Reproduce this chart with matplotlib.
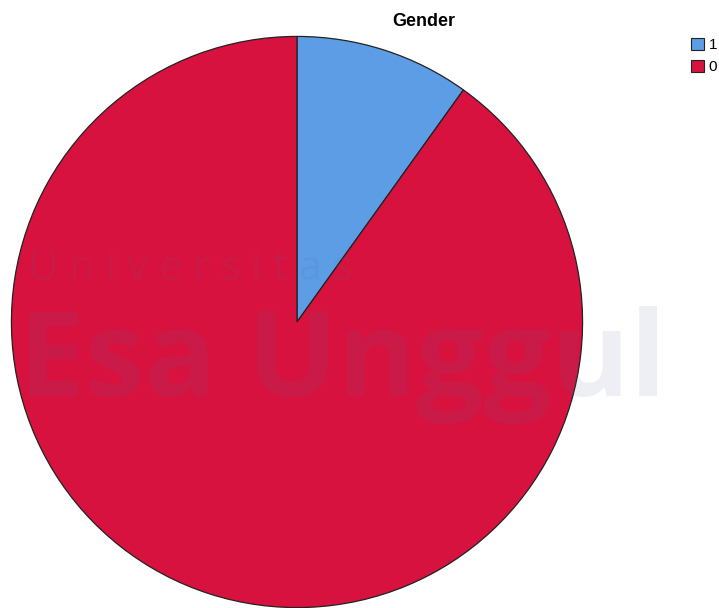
import matplotlib.pyplot as plt
from matplotlib.patches import Patch

# ------------------------------------------------------------
# DATA
# ------------------------------------------------------------
categories = ["1", "0"]
counts = [10, 91]
colors = ["#5c9de6", "#d7123e"]

W, H = 719, 608

fig = plt.figure(figsize=(W / 100, H / 100), dpi=100)
fig.patch.set_facecolor("white")

# pie axes placed in pixel terms: centre (297, 322), radius ~287
cx, cy, r = 297, 322, 287
ax = fig.add_axes([(cx - r) / W, (H - cy - r) / H, 2 * r / W, 2 * r / H])
wedges, _ = ax.pie(
    counts,
    colors=colors,
    startangle=90,
    counterclock=False,
    radius=1.0,
    wedgeprops=dict(edgecolor="#222222", linewidth=0.9),
)
ax.set_xlim(-1.005, 1.005)
ax.set_ylim(-1.005, 1.005)
ax.set_aspect("equal")
ax.axis("off")

fig.text(424 / W, 1 - 21 / H, "Gender", ha="center", va="center",
         fontsize=13, fontweight="bold", family="Liberation Sans")

handles = [Patch(facecolor=c, edgecolor="#222222", linewidth=0.8) for c in colors]
fig.legend(handles, categories, loc="upper left",
           bbox_to_anchor=(691 / W, 1 - 38 / H), frameon=False,
           handlelength=0.85, handleheight=0.85, handletextpad=0.3,
           labelspacing=0.5, borderpad=0, borderaxespad=0,
           prop=dict(family="Liberation Sans", size=11))

# faint watermark overlay
wm = dict(color="#5a6a9a", alpha=0.10, family="Open Sans", zorder=10)
fig.text(28 / W, 1 - 280 / H, "U n i v e r s i t a s", fontsize=30,
         ha="left", va="baseline", **wm)
fig.text(18 / W, 1 - 396 / H, "Esa Unggul", fontsize=86, fontweight="bold",
         ha="left", va="baseline", **wm)

fig.savefig("out.png", dpi=100)
